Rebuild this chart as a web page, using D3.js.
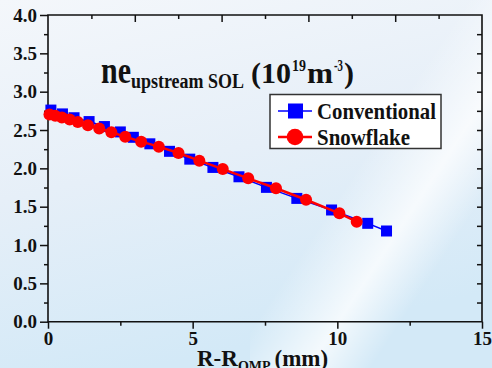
<!DOCTYPE html>
<html>
<head>
<meta charset="utf-8">
<script src="https://cdn.jsdelivr.net/npm/d3@7"></script>
<style>
  body { margin: 0; padding: 0; overflow: hidden; }
  svg { display: block; }
  text { font-family: "Liberation Serif", "Times New Roman", serif; font-weight: bold; fill: #111; }
</style>
</head>
<body>
<svg id="chart"></svg>
<script>
// chart data
var convX = [0.1, 0.5, 0.9, 1.42, 1.95, 2.5, 2.95, 3.52, 4.2, 4.9, 5.7, 6.6, 7.55, 8.6, 9.8, 11.05, 11.7];
var convY = [2.76, 2.71, 2.66, 2.61, 2.545, 2.475, 2.405, 2.32, 2.222, 2.12, 2.012, 1.89, 1.752, 1.608, 1.457, 1.283, 1.183];
var snowX = [0.05, 0.25, 0.48, 0.75, 1.03, 1.38, 1.77, 2.19, 2.67, 3.22, 3.83, 4.51, 5.23, 6.04, 6.92, 7.88, 8.92, 10.07, 10.67];
var snowY = [2.703, 2.687, 2.664, 2.638, 2.603, 2.562, 2.52, 2.47, 2.413, 2.348, 2.283, 2.2, 2.1, 1.99, 1.87, 1.74, 1.59, 1.414, 1.304];
var xMajor = [0, 5, 10, 15];
var xMinor = [2.5, 7.5, 12.5];
var yMajor = [0, 0.5, 1, 1.5, 2, 2.5, 3, 3.5, 4];
var yMinor = [0.25, 0.75, 1.25, 1.75, 2.25, 2.75, 3.25, 3.75];
var topMajor = [3, 6, 9, 12];
var topMinor = [1.5, 4.5, 7.5, 10.5, 13.5];
var rightTicks = d3.range(0.25, 4, 0.25);
var seriesNames = ["Conventional", "Snowflake"];
var seriesColors = ["#0000ff", "#ff0000"];

var width = 492, height = 368;
var svg = d3.select("#chart").attr("width", width).attr("height", height);

// background gradient
var defs = svg.append("defs");
var bg = defs.append("linearGradient").attr("id", "bg")
    .attr("x1", "0").attr("y1", "0").attr("x2", "0.3").attr("y2", "1");
bg.append("stop").attr("offset", "0").attr("stop-color", "#f4f7fb");
bg.append("stop").attr("offset", "0.5").attr("stop-color", "#e6eff8");
bg.append("stop").attr("offset", "1").attr("stop-color", "#d3e9f7");
var shine = defs.append("linearGradient").attr("id", "shine")
    .attr("x1", "0").attr("y1", "0").attr("x2", "1").attr("y2", "1");
shine.append("stop").attr("offset", "0.45").attr("stop-color", "#fff").attr("stop-opacity", 0);
shine.append("stop").attr("offset", "0.62").attr("stop-color", "#fff").attr("stop-opacity", 0.75);
shine.append("stop").attr("offset", "0.75").attr("stop-color", "#fff").attr("stop-opacity", 0);
svg.append("rect").attr("width", width).attr("height", height).attr("fill", "url(#bg)");
svg.append("rect").attr("x", 250).attr("y", 0).attr("width", 242).attr("height", 368).attr("fill", "url(#shine)");

var x = d3.scaleLinear().domain([0, 15]).range([48, 482]);
var y = d3.scaleLinear().domain([0, 4]).range([321.7, 15]);

function styleAxis(g) {
    g.select(".domain").remove();
    g.selectAll("line").attr("stroke", "#111").attr("stroke-width", 1.5);
    g.selectAll("text").style("font-size", "19px").style("font-family", "Liberation Serif, serif")
        .style("font-weight", "bold").attr("fill", "#111");
}

// left axis
svg.append("g").attr("transform", "translate(48,0)")
    .call(d3.axisLeft(y).tickValues(yMajor).tickSize(8).tickPadding(3).tickFormat(d3.format(".1f")))
    .call(styleAxis);
svg.append("g").attr("transform", "translate(48,0)")
    .call(d3.axisLeft(y).tickValues(yMinor).tickSize(4).tickFormat(""))
    .call(styleAxis);
// right axis
svg.append("g").attr("transform", "translate(482,0)")
    .call(d3.axisRight(y).tickValues(rightTicks).tickSize(-5).tickFormat(""))
    .call(styleAxis);
// bottom axis
svg.append("g").attr("transform", "translate(0,321.7)")
    .call(d3.axisBottom(x).tickValues(xMajor).tickSize(7).tickPadding(3).tickFormat(d3.format("d")))
    .call(styleAxis);
svg.append("g").attr("transform", "translate(0,321.7)")
    .call(d3.axisBottom(x).tickValues(xMinor).tickSize(4).tickFormat(""))
    .call(styleAxis);
// top axis
svg.append("g").attr("transform", "translate(0,15)")
    .call(d3.axisTop(x).tickValues(topMajor).tickSize(-7).tickFormat(""))
    .call(styleAxis);
svg.append("g").attr("transform", "translate(0,15)")
    .call(d3.axisTop(x).tickValues(topMinor).tickSize(-4).tickFormat(""))
    .call(styleAxis);

// frame
svg.append("path")
    .attr("d", "M" + x(0) + "," + y(0) + "H" + x(15) + "V" + y(4) + "H" + x(0) + "Z")
    .attr("fill", "none").attr("stroke", "#111").attr("stroke-width", 1.6);

// series
var conv = convX.map((d, i) => [d, convY[i]]);
var snow = snowX.map((d, i) => [d, snowY[i]]);
var line = d3.line().x(d => x(d[0])).y(d => y(d[1]));

svg.append("path").attr("d", line(conv)).attr("fill", "none")
    .attr("stroke", seriesColors[0]).attr("stroke-width", 1.5);
svg.selectAll(".sq").data(conv).enter().append("rect")
    .attr("x", d => x(d[0]) - 5.5).attr("y", d => y(d[1]) - 5.5)
    .attr("width", 11).attr("height", 11).attr("fill", seriesColors[0]);

svg.append("path").attr("d", line(snow)).attr("fill", "none")
    .attr("stroke", seriesColors[1]).attr("stroke-width", 2.5);
svg.selectAll(".ci").data(snow).enter().append("circle")
    .attr("cx", d => x(d[0])).attr("cy", d => y(d[1])).attr("r", 6)
    .attr("fill", seriesColors[1]);

// title
var title = svg.append("text").attr("x", 101).attr("y", 83);
title.append("tspan").style("font-size", "37px").attr("textLength", 30).attr("lengthAdjust", "spacingAndGlyphs").text("ne");
title.append("tspan").style("font-size", "20px").attr("dy", 5).attr("textLength", 113).attr("lengthAdjust", "spacingAndGlyphs").text("upstream SOL");
title.append("tspan").style("font-size", "30px").attr("dy", -5).attr("dx", 7).attr("textLength", 40).attr("lengthAdjust", "spacingAndGlyphs").text("(10");
title.append("tspan").style("font-size", "17px").attr("dy", -12).attr("dx", 1).attr("textLength", 14).attr("lengthAdjust", "spacingAndGlyphs").text("19");
title.append("tspan").style("font-size", "30px").attr("dy", 12).attr("dx", 1).attr("textLength", 26).attr("lengthAdjust", "spacingAndGlyphs").text("m");
title.append("tspan").style("font-size", "17px").attr("dy", -12).attr("dx", 1).attr("textLength", 9).attr("lengthAdjust", "spacingAndGlyphs").text("-3");
title.append("tspan").style("font-size", "30px").attr("dy", 12).attr("dx", 1).attr("textLength", 10).attr("lengthAdjust", "spacingAndGlyphs").text(")");

// x axis title (cut off at the bottom edge as in the original)
var xt = svg.append("text").attr("x", 197).attr("y", 366);
xt.append("tspan").style("font-size", "23px").text("R-R");
xt.append("tspan").style("font-size", "14px").attr("dy", 5).text("OMP");
xt.append("tspan").style("font-size", "23px").attr("dy", -5).attr("dx", 4).text("(mm)");

// legend
var legend = svg.append("g");
legend.append("rect").attr("x", 270).attr("y", 94.5).attr("width", 171).attr("height", 54)
    .attr("fill", "#fff").attr("stroke", "#333").attr("stroke-width", 1.5);
seriesNames.forEach(function(name, i) {
    var ly = 111 + i * 26;
    legend.append("line").attr("x1", 278).attr("x2", 312).attr("y1", ly).attr("y2", ly)
        .attr("stroke", seriesColors[i]).attr("stroke-width", i ? 2.5 : 1.5);
    if (i === 0) {
        legend.append("rect").attr("x", 288).attr("y", ly - 7.5).attr("width", 15).attr("height", 15)
            .attr("fill", seriesColors[i]);
    } else {
        legend.append("circle").attr("cx", 295).attr("cy", ly).attr("r", 8.3).attr("fill", seriesColors[i]);
    }
    legend.append("text").attr("x", 317).attr("y", ly + 7.5)
        .style("font-size", "23px")
        .attr("textLength", i ? 93 : 119).attr("lengthAdjust", "spacingAndGlyphs")
        .text(name);
});
</script>
</body>
</html>
